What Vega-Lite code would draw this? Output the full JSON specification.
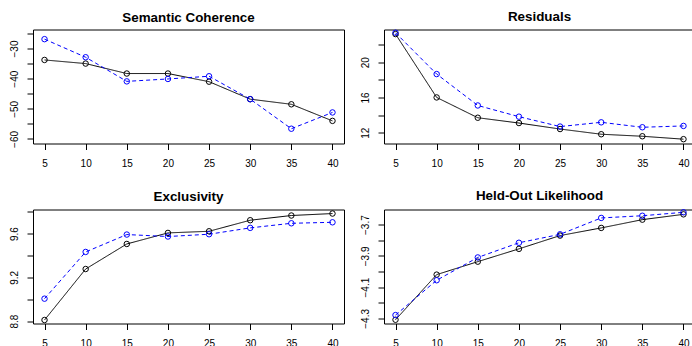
{
  "$schema": "https://vega.github.io/schema/vega-lite/v6.json",
  "padding": {"left": 8, "top": 8.5, "right": 0, "bottom": 0},
  "background": "white",
  "config": {
    "view": {"stroke": "black", "strokeWidth": 1},
    "font": "Liberation Sans",
    "axis": {"grid": false, "domain": false, "tickColor": "black", "tickSize": 6, "tickWidth": 1, "labelColor": "black", "labelFont": "Liberation Sans", "labelFontSize": 10, "title": null, "labelOverlap": false, "labelFlush": false},
    "title": {"font": "Liberation Sans", "fontSize": 13.4, "fontWeight": "bold", "color": "black", "frame": "group", "anchor": "middle", "offset": 5}
  },
  "datasets": {
    "d": [
      {"metric": "Semantic Coherence", "series": "Series 1", "K": 5, "value": -33.8},
      {"metric": "Semantic Coherence", "series": "Series 1", "K": 10, "value": -35.0},
      {"metric": "Semantic Coherence", "series": "Series 1", "K": 15, "value": -38.3},
      {"metric": "Semantic Coherence", "series": "Series 1", "K": 20, "value": -38.3},
      {"metric": "Semantic Coherence", "series": "Series 1", "K": 25, "value": -41.0},
      {"metric": "Semantic Coherence", "series": "Series 1", "K": 30, "value": -46.8},
      {"metric": "Semantic Coherence", "series": "Series 1", "K": 35, "value": -48.5},
      {"metric": "Semantic Coherence", "series": "Series 1", "K": 40, "value": -54.0},
      {"metric": "Semantic Coherence", "series": "Series 2", "K": 5, "value": -26.9},
      {"metric": "Semantic Coherence", "series": "Series 2", "K": 10, "value": -32.9},
      {"metric": "Semantic Coherence", "series": "Series 2", "K": 15, "value": -40.9},
      {"metric": "Semantic Coherence", "series": "Series 2", "K": 20, "value": -40.1},
      {"metric": "Semantic Coherence", "series": "Series 2", "K": 25, "value": -39.2},
      {"metric": "Semantic Coherence", "series": "Series 2", "K": 30, "value": -46.8},
      {"metric": "Semantic Coherence", "series": "Series 2", "K": 35, "value": -56.6},
      {"metric": "Semantic Coherence", "series": "Series 2", "K": 40, "value": -51.2},
      {"metric": "Residuals", "series": "Series 1", "K": 5, "value": 23.18},
      {"metric": "Residuals", "series": "Series 1", "K": 10, "value": 16.0},
      {"metric": "Residuals", "series": "Series 1", "K": 15, "value": 13.7},
      {"metric": "Residuals", "series": "Series 1", "K": 20, "value": 13.1},
      {"metric": "Residuals", "series": "Series 1", "K": 25, "value": 12.42},
      {"metric": "Residuals", "series": "Series 1", "K": 30, "value": 11.83},
      {"metric": "Residuals", "series": "Series 1", "K": 35, "value": 11.6},
      {"metric": "Residuals", "series": "Series 1", "K": 40, "value": 11.27},
      {"metric": "Residuals", "series": "Series 2", "K": 5, "value": 23.33},
      {"metric": "Residuals", "series": "Series 2", "K": 10, "value": 18.65},
      {"metric": "Residuals", "series": "Series 2", "K": 15, "value": 15.09},
      {"metric": "Residuals", "series": "Series 2", "K": 20, "value": 13.82},
      {"metric": "Residuals", "series": "Series 2", "K": 25, "value": 12.7},
      {"metric": "Residuals", "series": "Series 2", "K": 30, "value": 13.18},
      {"metric": "Residuals", "series": "Series 2", "K": 35, "value": 12.62},
      {"metric": "Residuals", "series": "Series 2", "K": 40, "value": 12.77},
      {"metric": "Exclusivity", "series": "Series 1", "K": 5, "value": 8.81},
      {"metric": "Exclusivity", "series": "Series 1", "K": 10, "value": 9.276},
      {"metric": "Exclusivity", "series": "Series 1", "K": 15, "value": 9.505},
      {"metric": "Exclusivity", "series": "Series 1", "K": 20, "value": 9.606},
      {"metric": "Exclusivity", "series": "Series 1", "K": 25, "value": 9.621},
      {"metric": "Exclusivity", "series": "Series 1", "K": 30, "value": 9.722},
      {"metric": "Exclusivity", "series": "Series 1", "K": 35, "value": 9.765},
      {"metric": "Exclusivity", "series": "Series 1", "K": 40, "value": 9.783},
      {"metric": "Exclusivity", "series": "Series 2", "K": 5, "value": 9.005},
      {"metric": "Exclusivity", "series": "Series 2", "K": 10, "value": 9.432},
      {"metric": "Exclusivity", "series": "Series 2", "K": 15, "value": 9.591},
      {"metric": "Exclusivity", "series": "Series 2", "K": 20, "value": 9.573},
      {"metric": "Exclusivity", "series": "Series 2", "K": 25, "value": 9.594},
      {"metric": "Exclusivity", "series": "Series 2", "K": 30, "value": 9.652},
      {"metric": "Exclusivity", "series": "Series 2", "K": 35, "value": 9.694},
      {"metric": "Exclusivity", "series": "Series 2", "K": 40, "value": 9.703},
      {"metric": "Held-Out Likelihood", "series": "Series 1", "K": 5, "value": -4.309},
      {"metric": "Held-Out Likelihood", "series": "Series 1", "K": 10, "value": -4.02},
      {"metric": "Held-Out Likelihood", "series": "Series 1", "K": 15, "value": -3.937},
      {"metric": "Held-Out Likelihood", "series": "Series 1", "K": 20, "value": -3.855},
      {"metric": "Held-Out Likelihood", "series": "Series 1", "K": 25, "value": -3.77},
      {"metric": "Held-Out Likelihood", "series": "Series 1", "K": 30, "value": -3.721},
      {"metric": "Held-Out Likelihood", "series": "Series 1", "K": 35, "value": -3.668},
      {"metric": "Held-Out Likelihood", "series": "Series 1", "K": 40, "value": -3.634},
      {"metric": "Held-Out Likelihood", "series": "Series 2", "K": 5, "value": -4.279},
      {"metric": "Held-Out Likelihood", "series": "Series 2", "K": 10, "value": -4.056},
      {"metric": "Held-Out Likelihood", "series": "Series 2", "K": 15, "value": -3.91},
      {"metric": "Held-Out Likelihood", "series": "Series 2", "K": 20, "value": -3.816},
      {"metric": "Held-Out Likelihood", "series": "Series 2", "K": 25, "value": -3.762},
      {"metric": "Held-Out Likelihood", "series": "Series 2", "K": 30, "value": -3.657},
      {"metric": "Held-Out Likelihood", "series": "Series 2", "K": 35, "value": -3.643},
      {"metric": "Held-Out Likelihood", "series": "Series 2", "K": 40, "value": -3.621}
    ]
  },
  "columns": 2,
  "spacing": {"row": 66, "column": 40},
  "bounds": "flush",
  "concat": [
    {
      "title": "Semantic Coherence",
      "width": 311, "height": 114,
      "data": {"name": "d"},
      "transform": [{"filter": "datum.metric === 'Semantic Coherence'"}],
      "encoding": {
        "x": {"field": "K", "type": "quantitative", "scale": {"domain": [3.6, 41.4], "nice": false, "zero": false}, "axis": {"values": [5, 10, 15, 20, 25, 30, 35, 40], "labelAngle": 0, "labelPadding": 9}},
        "y": {"field": "value", "type": "quantitative", "scale": {"domain": [-61.5, -23.7], "nice": false, "zero": false}, "axis": {"values": [-25, -30, -35, -40, -45, -50, -55, -60], "format": "d", "labelExpr": "datum.value % 10 === 0 ? datum.label : ''", "labelAngle": -90, "labelPadding": 8}},
        "color": {"field": "series", "type": "nominal", "scale": {"domain": ["Series 1", "Series 2"], "range": ["black", "blue"]}, "legend": null}
      },
      "layer": [
        {"mark": {"type": "line", "strokeWidth": 1}, "encoding": {"strokeDash": {"field": "series", "type": "nominal", "scale": {"domain": ["Series 1", "Series 2"], "range": [[1, 0], [4, 3]]}, "legend": null}}},
        {"mark": {"type": "point", "filled": false, "size": 30, "strokeWidth": 1, "opacity": 1}}
      ]
    },
    {
      "title": "Residuals",
      "width": 311, "height": 114,
      "data": {"name": "d"},
      "transform": [{"filter": "datum.metric === 'Residuals'"}],
      "encoding": {
        "x": {"field": "K", "type": "quantitative", "scale": {"domain": [3.6, 41.4], "nice": false, "zero": false}, "axis": {"values": [5, 10, 15, 20, 25, 30, 35, 40], "labelAngle": 0, "labelPadding": 9}},
        "y": {"field": "value", "type": "quantitative", "scale": {"domain": [10.78, 23.7], "nice": false, "zero": false}, "axis": {"values": [12, 14, 16, 18, 20, 22], "format": "d", "labelExpr": "datum.value % 4 === 0 ? datum.label : ''", "labelAngle": -90, "labelPadding": 8}},
        "color": {"field": "series", "type": "nominal", "scale": {"domain": ["Series 1", "Series 2"], "range": ["black", "blue"]}, "legend": null}
      },
      "layer": [
        {"mark": {"type": "line", "strokeWidth": 1}, "encoding": {"strokeDash": {"field": "series", "type": "nominal", "scale": {"domain": ["Series 1", "Series 2"], "range": [[1, 0], [4, 3]]}, "legend": null}}},
        {"mark": {"type": "point", "filled": false, "size": 30, "strokeWidth": 1, "opacity": 1}}
      ]
    },
    {
      "title": "Exclusivity",
      "width": 311, "height": 114,
      "data": {"name": "d"},
      "transform": [{"filter": "datum.metric === 'Exclusivity'"}],
      "encoding": {
        "x": {"field": "K", "type": "quantitative", "scale": {"domain": [3.6, 41.4], "nice": false, "zero": false}, "axis": {"values": [5, 10, 15, 20, 25, 30, 35, 40], "labelAngle": 0, "labelPadding": 9}},
        "y": {"field": "value", "type": "quantitative", "scale": {"domain": [8.778, 9.82], "nice": false, "zero": false}, "axis": {"values": [8.8, 9.0, 9.2, 9.4, 9.6, 9.8], "format": ".1f", "labelExpr": "round(datum.value * 10) % 4 === 0 ? datum.label : ''", "labelAngle": -90, "labelPadding": 8}},
        "color": {"field": "series", "type": "nominal", "scale": {"domain": ["Series 1", "Series 2"], "range": ["black", "blue"]}, "legend": null}
      },
      "layer": [
        {"mark": {"type": "line", "strokeWidth": 1}, "encoding": {"strokeDash": {"field": "series", "type": "nominal", "scale": {"domain": ["Series 1", "Series 2"], "range": [[1, 0], [4, 3]]}, "legend": null}}},
        {"mark": {"type": "point", "filled": false, "size": 30, "strokeWidth": 1, "opacity": 1}}
      ]
    },
    {
      "title": "Held-Out Likelihood",
      "width": 311, "height": 114,
      "data": {"name": "d"},
      "transform": [{"filter": "datum.metric === 'Held-Out Likelihood'"}],
      "encoding": {
        "x": {"field": "K", "type": "quantitative", "scale": {"domain": [3.6, 41.4], "nice": false, "zero": false}, "axis": {"values": [5, 10, 15, 20, 25, 30, 35, 40], "labelAngle": 0, "labelPadding": 9}},
        "y": {"field": "value", "type": "quantitative", "scale": {"domain": [-4.333, -3.603], "nice": false, "zero": false}, "axis": {"values": [-3.7, -3.8, -3.9, -4.0, -4.1, -4.2, -4.3], "format": ".1f", "labelExpr": "round(-datum.value * 10) % 2 === 1 ? datum.label : ''", "labelAngle": -90, "labelPadding": 8}},
        "color": {"field": "series", "type": "nominal", "scale": {"domain": ["Series 1", "Series 2"], "range": ["black", "blue"]}, "legend": null}
      },
      "layer": [
        {"mark": {"type": "line", "strokeWidth": 1}, "encoding": {"strokeDash": {"field": "series", "type": "nominal", "scale": {"domain": ["Series 1", "Series 2"], "range": [[1, 0], [4, 3]]}, "legend": null}}},
        {"mark": {"type": "point", "filled": false, "size": 30, "strokeWidth": 1, "opacity": 1}}
      ]
    }
  ]
}
